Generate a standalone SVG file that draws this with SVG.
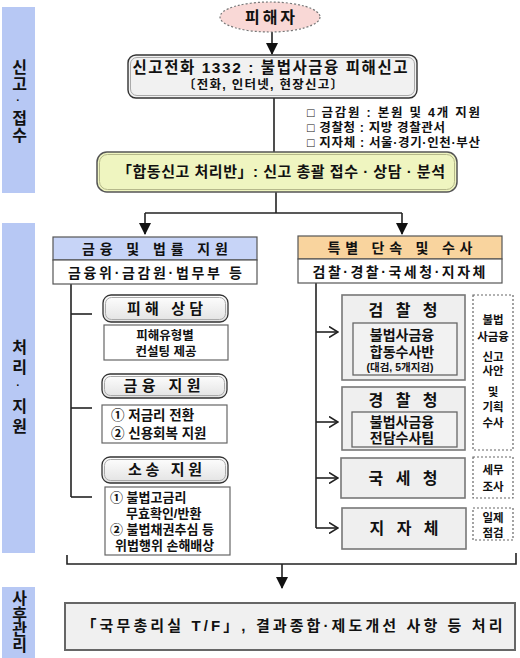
<svg xmlns="http://www.w3.org/2000/svg" width="520" height="658" viewBox="0 0 520 658">
<defs>
<style>
text{font-family:"Liberation Sans","Noto Sans CJK KR","Noto Sans CJK SC",sans-serif;font-weight:700;fill:#111;text-anchor:middle}
.bar{fill:#b7c8f4}
.vt{font-size:16px;writing-mode:vertical-rl;text-anchor:start}
.dt{font-size:11px}
.ln{stroke:#222;stroke-width:1.6;fill:none}
.pill{fill:url(#gg);stroke:#333;stroke-width:1.3}
.pin{fill:none;stroke:#aaa;stroke-width:1}
.det{fill:#fff;stroke:#666;stroke-width:1.2}
.rb{fill:#efefef;stroke:#777;stroke-width:1.6}
.ri{fill:#f2f2f2;stroke:#666;stroke-width:1.3}
.dot{fill:#fff;stroke:#666;stroke-width:1.2;stroke-dasharray:2 2}
.s11{font-size:11.5px}
.l{text-anchor:start}
</style>
<linearGradient id="gg" x1="0" y1="0" x2="0" y2="1"><stop offset="0" stop-color="#ffffff"/><stop offset="1" stop-color="#e2e2e2"/></linearGradient>
<marker id="ah" viewBox="0 0 12 12" refX="11" refY="6" markerWidth="12" markerHeight="12" markerUnits="userSpaceOnUse" orient="auto"><path d="M0,0 L12,6 L0,12 Z" fill="#111"/></marker>
<marker id="oa" viewBox="0 0 10 12" refX="9" refY="6" markerWidth="10" markerHeight="12" markerUnits="userSpaceOnUse" orient="auto"><path d="M0,0.5 L9,6 L0,11.5" fill="none" stroke="#222" stroke-width="1.6"/></marker>
</defs>
<rect width="520" height="658" fill="#fff"/>

<g id="phase-bars">
<rect class="bar" x="2" y="7" width="33" height="186"/>
<text class="vt" x="18" y="59" letter-spacing="1">신고</text>
<text class="dt" x="18" y="104">·</text>
<text class="vt" x="18" y="110" letter-spacing="1">접수</text>
<rect class="bar" x="2" y="223" width="33" height="330"/>
<text class="vt" x="18" y="339" letter-spacing="3.5">처리</text>
<text class="dt" x="18" y="389">·</text>
<text class="vt" x="18" y="398" letter-spacing="3.5">지원</text>
<rect class="bar" x="2" y="587" width="33" height="71"/>
<text class="vt" x="18" y="590" letter-spacing="-0.3">사후관리</text>
</g>

<g id="connectors">
<line class="ln" x1="272" y1="32" x2="272" y2="54" marker-end="url(#ah)"/>
<line class="ln" x1="274" y1="98" x2="274" y2="152"/>
<polyline class="ln" points="276,192 276,213"/>
<line class="ln" x1="145" y1="213" x2="402" y2="213"/>
<line class="ln" x1="145" y1="213" x2="145" y2="234" marker-end="url(#ah)"/>
<line class="ln" x1="402" y1="213" x2="402" y2="234" marker-end="url(#ah)"/>
<line class="ln" x1="71" y1="284" x2="71" y2="497"/>
<line class="ln" x1="71" y1="314" x2="92" y2="314"/>
<line class="ln" x1="71" y1="408" x2="92" y2="408"/>
<line class="ln" x1="71" y1="497" x2="92" y2="497"/>
<line class="ln" x1="316" y1="283" x2="316" y2="528"/>
<line class="ln" x1="316" y1="332" x2="338" y2="332" marker-end="url(#oa)"/>
<line class="ln" x1="316" y1="422" x2="338" y2="422" marker-end="url(#oa)"/>
<line class="ln" x1="316" y1="478" x2="338" y2="478" marker-end="url(#oa)"/>
<line class="ln" x1="316" y1="528" x2="338" y2="528" marker-end="url(#oa)"/>
<polyline class="ln" points="67,555 67,564 516,564 516,553"/>
<line class="ln" x1="282" y1="564" x2="282" y2="588" marker-end="url(#ah)"/>
</g>

<g id="victim">
<ellipse cx="270" cy="17" rx="50" ry="15" fill="#f9d8d6" stroke="#777" stroke-width="1.2" stroke-dasharray="2 2"/>
<text x="270" y="23" font-size="16" textLength="50">피해자</text>
</g>

<g id="report-call">
<rect x="128" y="55" width="289" height="43" rx="8" fill="#f1f1f1" stroke="#333" stroke-width="1.4"/>
<rect x="130.5" y="57.5" width="284" height="38" rx="6.5" class="pin"/>
<text x="270" y="73" font-size="15.5" textLength="275">신고전화 1332 : 불법사금융 피해신고</text>
<text x="263" y="89" font-size="12.5" textLength="160">〔전화, 인터넷, 현장신고〕</text>
</g>

<g id="notes">
<text class="l" x="307" y="117" font-size="12.5" textLength="173">□ 금감원 : 본원 및 4개 지원</text>
<text class="l" x="307" y="132" font-size="12.5" textLength="138">□ 경찰청 : 지방 경찰관서</text>
<text class="l" x="307" y="147" font-size="12.5" textLength="173">□ 지자체 : 서울·경기·인천·부산</text>
</g>

<g id="joint-center">
<rect x="97" y="152" width="360" height="40" rx="10" fill="#eff5c0" stroke="#555" stroke-width="1.5"/>
<rect x="99.5" y="154.5" width="355" height="35" rx="8" fill="none" stroke="#b5b88a" stroke-width="1"/>
<text x="281" y="177" font-size="15" textLength="328">「합동신고 처리반」: 신고 총괄 접수 · 상담 · 분석</text>
</g>

<g id="finance-legal">
<rect x="53" y="237" width="204" height="23" fill="#c7d4f7" stroke="#555" stroke-width="1.2"/>
<text x="155" y="254" font-size="14" textLength="146">금융 및 법률 지원</text>
<rect x="53" y="260" width="204" height="24" fill="#fff" stroke="#555" stroke-width="1.2"/>
<text x="155" y="278" font-size="14" textLength="174">금융위·금감원·법무부 등</text>
</g>

<g id="damage-consult">
<rect class="pill" x="103" y="295" width="125" height="27" rx="8"/>
<rect class="pin" x="105.5" y="297.5" width="120" height="22" rx="6"/>
<text x="165" y="314" font-size="15" textLength="76">피해 상담</text>
<rect class="det" x="104" y="325" width="124" height="35"/>
<text x="165" y="340" font-size="12.5">피해유형별</text>
<text x="166" y="356" font-size="12.5">컨설팅 제공</text>
</g>

<g id="finance-support">
<rect class="pill" x="102" y="374" width="125" height="24" rx="8"/>
<rect class="pin" x="104.5" y="376.5" width="120" height="19" rx="6"/>
<text x="162" y="391" font-size="15" textLength="77">금융 지원</text>
<rect class="det" x="102" y="405" width="125" height="38"/>
<text class="l" x="111" y="420" font-size="13.5">① 저금리 전환</text>
<text class="l" x="111" y="438" font-size="13.5">② 신용회복 지원</text>
</g>

<g id="lawsuit-support">
<rect class="pill" x="102" y="457" width="126" height="26" rx="8"/>
<rect class="pin" x="104.5" y="459.5" width="121" height="21" rx="6"/>
<text x="165" y="475" font-size="15" textLength="74">소송 지원</text>
<rect class="det" x="105" y="487" width="125" height="68"/>
<text class="l" x="110" y="502" font-size="13">① 불법고금리</text>
<text class="l" x="126" y="518" font-size="13">무효확인/반환</text>
<text class="l" x="110" y="534" font-size="13">② 불법채권추심 등</text>
<text class="l" x="115" y="550" font-size="13">위법행위 손해배상</text>
</g>

<g id="special-crackdown">
<rect x="298" y="236" width="204" height="23" fill="#f9d49e" stroke="#555" stroke-width="1.2"/>
<text x="400" y="253" font-size="14" textLength="145">특별 단속 및 수사</text>
<rect x="298" y="259" width="204" height="24" fill="#fff" stroke="#555" stroke-width="1.2"/>
<text x="399" y="277" font-size="14" textLength="173">검찰·경찰·국세청·지자체</text>
</g>

<g id="prosecution">
<rect class="rb" x="342" y="295" width="123" height="85"/>
<text x="403" y="316" font-size="16" textLength="69">검 찰 청</text>
<rect class="ri" x="353" y="323" width="104" height="52"/>
<text x="402" y="340" font-size="14">불법사금융</text>
<text x="402" y="357" font-size="14">합동수사반</text>
<text x="400" y="371" font-size="10.5">(대검, 5개지검)</text>
</g>

<g id="police">
<rect class="rb" x="342" y="387" width="123" height="63"/>
<text x="403" y="406" font-size="16" textLength="69">경 찰 청</text>
<rect class="ri" x="352" y="412" width="105" height="35"/>
<text x="402" y="427" font-size="14">불법사금융</text>
<text x="402" y="443" font-size="14">전담수사팀</text>
</g>

<g id="nts">
<rect class="rb" x="341" y="458" width="124" height="40"/>
<text x="403" y="484" font-size="16" textLength="69">국 세 청</text>
</g>

<g id="local-gov">
<rect class="rb" x="342" y="508" width="124" height="41"/>
<text x="404" y="534" font-size="16" textLength="69">지 자 체</text>
</g>

<g id="note-investigation">
<rect class="dot" x="473" y="295" width="40" height="155"/>
<text class="s11" x="493" y="324">불법</text>
<text class="s11" x="493" y="341">사금융</text>
<text class="s11" x="493" y="361">신고</text>
<text class="s11" x="493" y="375">사안</text>
<text class="s11" x="493" y="396">및</text>
<text class="s11" x="493" y="411">기획</text>
<text class="s11" x="493" y="427">수사</text>
</g>

<g id="note-tax">
<rect class="dot" x="473" y="457" width="40" height="41"/>
<text class="s11" x="493" y="474">세무</text>
<text class="s11" x="493" y="491">조사</text>
</g>

<g id="note-inspect">
<rect class="dot" x="473" y="508" width="40" height="32"/>
<text class="s11" x="493" y="522">일제</text>
<text class="s11" x="493" y="537">점검</text>
</g>

<g id="followup">
<rect x="65" y="603" width="450" height="47" fill="#f0f0f0" stroke="#666" stroke-width="2"/>
<text x="292" y="631" font-size="15" textLength="421">「국무총리실 T/F」, 결과종합·제도개선 사항 등 처리</text>
</g>
</svg>
